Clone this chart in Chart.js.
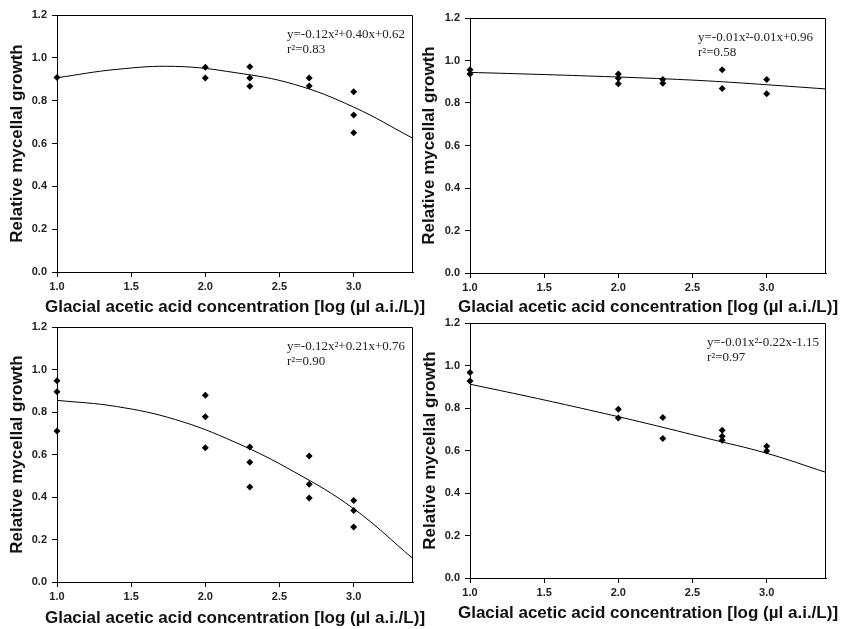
<!DOCTYPE html>
<html>
<head>
<meta charset="utf-8">
<script src="https://cdn.jsdelivr.net/npm/chart.js@4.4.0/dist/chart.umd.min.js"></script>
<style>
  html, body { margin: 0; padding: 0; background: #fff; }
  #wrap { position: relative; width: 842px; height: 629px; overflow: hidden; background: #fff; }
  #wrap canvas { position: absolute; left: 0; top: 0; }
</style>
</head>
<body>
<div id="wrap">
  <canvas id="chartA" width="842" height="629"></canvas>
  <canvas id="chartB" width="842" height="629"></canvas>
  <canvas id="chartC" width="842" height="629"></canvas>
  <canvas id="chartD" width="842" height="629"></canvas>
</div>
<script>
// Shared axes
const xTicks = [1.0, 1.5, 2.0, 2.5, 3.0];
const yTicks = [0.0, 0.2, 0.4, 0.6, 0.8, 1.0, 1.2];
const xRange = [1.0, 3.4];
const yRange = [0.0, 1.2];
const xTitle = 'Glacial acetic acid concentration [log (\u00b5l a.i./L)]';
const yTitle = 'Relative mycellal growth';

// Fitted curves are read at the same x positions
const curveX = [1.0, 1.4, 1.8, 2.2, 2.6, 3.0, 3.4];

// Panel A (top left)
const aPointsX = [1.0, 2.0, 2.0, 2.3, 2.3, 2.3, 2.7, 2.7, 3.0, 3.0, 3.0];
const aPointsY = [0.908, 0.956, 0.906, 0.958, 0.906, 0.867, 0.906, 0.868, 0.842, 0.733, 0.650];
const aCurveY = [0.907, 0.946, 0.960, 0.931, 0.876, 0.770, 0.624];

// Panel B (top right)
const bPointsX = [1.0, 1.0, 2.0, 2.0, 2.0, 2.3, 2.3, 2.7, 2.7, 3.0, 3.0];
const bPointsY = [0.957, 0.937, 0.936, 0.917, 0.891, 0.911, 0.893, 0.957, 0.868, 0.911, 0.844];
const bCurveY = [0.944, 0.936, 0.927, 0.917, 0.904, 0.886, 0.866];

// Panel C (bottom left)
const cPointsX = [1.0, 1.0, 1.0, 2.0, 2.0, 2.0, 2.3, 2.3, 2.3, 2.7, 2.7, 2.7, 3.0, 3.0, 3.0];
const cPointsY = [0.947, 0.895, 0.711, 0.879, 0.778, 0.632, 0.635, 0.564, 0.447, 0.593, 0.460, 0.395, 0.384, 0.337, 0.259];
const cCurveY = [0.855, 0.826, 0.764, 0.658, 0.518, 0.345, 0.110];

// Panel D (bottom right)
const dPointsX = [1.0, 1.0, 2.0, 2.0, 2.3, 2.3, 2.7, 2.7, 2.7, 3.0, 3.0];
const dPointsY = [0.967, 0.927, 0.794, 0.753, 0.755, 0.657, 0.695, 0.667, 0.648, 0.620, 0.598];
const dCurveY = [0.912, 0.853, 0.791, 0.726, 0.657, 0.587, 0.497];

// Fit labels
const equations = ['y=-0.12x\u00b2+0.40x+0.62', 'y=-0.01x\u00b2-0.01x+0.96', 'y=-0.12x\u00b2+0.21x+0.76', 'y=-0.01x\u00b2-0.22x-1.15'];
const r2Labels = ['r\u00b2=0.83', 'r\u00b2=0.58', 'r\u00b2=0.90', 'r\u00b2=0.97'];

// Where each plot box sits on the page
const boxes = [
  { left: 57, top: 15, right: 413, bottom: 272, yTitleX: 17, xTitleY: 307, annX: 287 },
  { left: 470, top: 18, right: 826, bottom: 273, yTitleX: 429, xTitleY: 307, annX: 698 },
  { left: 57, top: 327, right: 413, bottom: 582, yTitleX: 17, xTitleY: 618, annX: 287 },
  { left: 470, top: 323, right: 826, bottom: 578, yTitleX: 430, xTitleY: 613, annX: 707 }
];

const PAGE_W = 842;
const PAGE_H = 629;
const Y_AXIS_W = 45;
const X_AXIS_H = 30;

/**
 * Draws frame, axis titles and fit equation
 */
const panelDecor = {
  id: 'panelDecor',
  afterDraw(chart, args, opts) {
    const { ctx, chartArea: a } = chart;
    ctx.save();

    // top and right side of the frame
    ctx.strokeStyle = '#000';
    ctx.lineWidth = 1;
    ctx.beginPath();
    ctx.moveTo(a.left, a.top + 0.5);
    ctx.lineTo(a.right - 0.5, a.top + 0.5);
    ctx.lineTo(a.right - 0.5, a.bottom);
    ctx.stroke();

    // axis titles
    ctx.fillStyle = '#111';
    ctx.font = 'bold 17px "Liberation Sans", Arial, sans-serif';
    ctx.textAlign = 'center';
    ctx.textBaseline = 'middle';
    ctx.fillText(xTitle, (a.left + a.right) / 2, opts.xTitleY);

    ctx.save();
    ctx.translate(opts.yTitleX, (a.top + a.bottom) / 2);
    ctx.rotate(-Math.PI / 2);
    ctx.fillText(yTitle, 0, 0);
    ctx.restore();

    // regression equation
    ctx.fillStyle = '#222';
    ctx.font = '13px "Liberation Serif", "Times New Roman", serif';
    ctx.textAlign = 'left';
    ctx.fillText(opts.eq, opts.annX, a.top + 20);
    ctx.fillText(opts.r2, opts.annX, a.top + 35);

    ctx.restore();
  }
};

function toPoints(xs, ys) {
  return xs.map((x, i) => ({ x: x, y: ys[i] }));
}

function tickFont() {
  return { family: '"Liberation Sans", Arial, sans-serif', size: 11, weight: 'bold' };
}

/**
 * Build one scatter panel with its fitted curve
 */
function createPanel(canvasId, idx, pointsX, pointsY, curveY) {
  const ctx = document.getElementById(canvasId);
  const box = boxes[idx];

  const chartData = {
    datasets: [
      {
        label: 'Observed',
        data: toPoints(pointsX, pointsY),
        pointStyle: 'rectRot',
        pointRadius: 3.5,
        backgroundColor: '#000',
        borderColor: '#000',
        borderWidth: 0,
        showLine: false,
        clip: false
      },
      {
        label: 'Fit',
        data: toPoints(curveX, curveY),
        showLine: true,
        borderColor: '#000',
        borderWidth: 1,
        pointRadius: 0,
        tension: 0.4,
        fill: false
      }
    ]
  };

  const options = {
    responsive: false,
    animation: false,
    events: [],
    layout: {
      padding: {
        left: box.left - Y_AXIS_W,
        top: box.top,
        right: PAGE_W - box.right,
        bottom: PAGE_H - box.bottom - X_AXIS_H
      }
    },
    plugins: {
      legend: { display: false },
      tooltip: { enabled: false },
      panelDecor: {
        eq: equations[idx],
        r2: r2Labels[idx],
        annX: box.annX,
        yTitleX: box.yTitleX,
        xTitleY: box.xTitleY
      }
    },
    scales: {
      x: {
        type: 'linear',
        min: xRange[0],
        max: xRange[1],
        afterBuildTicks: function(scale) {
          scale.ticks = xTicks.map(v => ({ value: v }));
        },
        afterFit: function(scale) {
          scale.height = X_AXIS_H;
        },
        grid: {
          drawOnChartArea: false,
          drawTicks: true,
          tickLength: 5,
          color: '#000'
        },
        border: { display: true, color: '#000', width: 1 },
        ticks: {
          padding: 3,
          color: '#222',
          maxRotation: 0,
          autoSkip: false,
          font: tickFont(),
          callback: function(value) {
            return Number(value).toFixed(1);
          }
        }
      },
      y: {
        type: 'linear',
        min: yRange[0],
        max: yRange[1],
        afterBuildTicks: function(scale) {
          scale.ticks = yTicks.map(v => ({ value: v }));
        },
        afterFit: function(scale) {
          scale.width = Y_AXIS_W;
        },
        grid: {
          drawOnChartArea: false,
          drawTicks: true,
          tickLength: 5,
          color: '#000'
        },
        border: { display: true, color: '#000', width: 1 },
        ticks: {
          padding: 5,
          color: '#222',
          autoSkip: false,
          font: tickFont(),
          callback: function(value) {
            return Number(value).toFixed(1);
          }
        }
      }
    }
  };

  return new Chart(ctx, {
    type: 'scatter',
    data: chartData,
    options: options,
    plugins: [panelDecor]
  });
}

createPanel('chartA', 0, aPointsX, aPointsY, aCurveY);
createPanel('chartB', 1, bPointsX, bPointsY, bCurveY);
createPanel('chartC', 2, cPointsX, cPointsY, cCurveY);
createPanel('chartD', 3, dPointsX, dPointsY, dCurveY);
</script>
</body>
</html>
